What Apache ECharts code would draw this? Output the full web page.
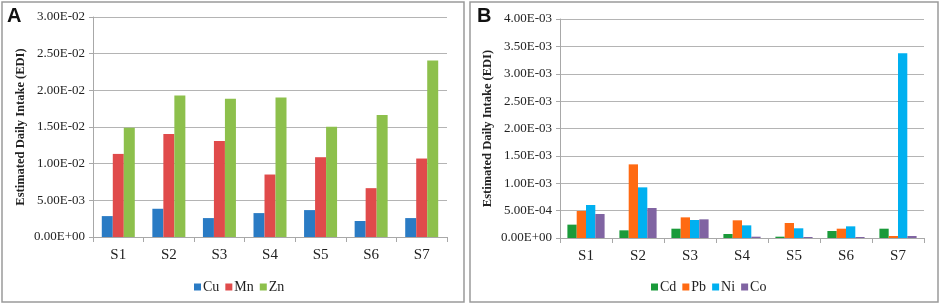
<!DOCTYPE html>
<html>
<head>
<meta charset="utf-8">
<script src="https://cdn.jsdelivr.net/npm/echarts@6/dist/echarts.min.js"></script>
<style>
  html, body { margin: 0; padding: 0; background: #fff; }
  #chart { width: 941px; height: 305px; }
</style>
</head>
<body>
<div id="chart"></div>
<script>
// sites
const sites = ['S1', 'S2', 'S3', 'S4', 'S5', 'S6', 'S7'];

// panel A
const cu = [0.00285, 0.00385, 0.00258, 0.00326, 0.00367, 0.00218, 0.00258];
const mn = [0.01133, 0.01405, 0.0131, 0.00852, 0.01088, 0.00666, 0.0107];
const zn = [0.01491, 0.0193, 0.01885, 0.01903, 0.01505, 0.01663, 0.02406];

// panel B
const cd = [0.000244, 0.00014, 0.00017, 0.000073, 0.000024, 0.000128, 0.00017];
const pb = [0.000493, 0.001345, 0.000377, 0.000323, 0.000274, 0.00017, 0.000037];
const ni = [0.000603, 0.000925, 0.000329, 0.000231, 0.000177, 0.000213, 0.003373];
const co = [0.000438, 0.000548, 0.000341, 0.000024, 0.000018, 0.000018, 0.000037];

const colorA = ['#2a7bc4', '#e04b4b', '#8dc04c'];
const colorB = ['#1a9a3a', '#ff6a12', '#00b0f0', '#8064a2'];

const serif = 'Liberation Serif';

// 3.00E-02 style labels
function sci(v) {
  let s = Number(v).toExponential(2).toUpperCase();
  let parts = s.split('E');
  let exp = parts[1];
  let sign = exp[0] === '-' ? '-' : '+';
  let num = exp.replace('+', '').replace('-', '');
  if (num.length < 2) num = '0' + num;
  return parts[0] + 'E' + sign + num;
}

function yAxisCfg(gridIndex, max, interval) {
  return {
    type: 'value',
    gridIndex: gridIndex,
    min: 0,
    max: max,
    interval: interval,
    name: 'Estimated Daily Intake (EDI)',
    nameLocation: 'middle',
    nameGap: 66,
    nameTextStyle: {
      color: '#222',
      fontFamily: serif,
      fontWeight: 'bold',
      fontSize: 12.5,
    },
    axisLine: { show: true, lineStyle: { color: '#a8a8a8' } },
    axisTick: { show: true, length: 4, lineStyle: { color: '#a8a8a8' } },
    axisLabel: {
      color: '#222',
      fontFamily: serif,
      fontSize: 13,
      margin: 8,
      formatter: sci,
    },
    splitLine: { lineStyle: { color: '#b4b4b4', width: 1 } },
  };
}

function xAxisCfg(gridIndex) {
  return {
    type: 'category',
    gridIndex: gridIndex,
    data: sites,
    axisLine: { show: true, lineStyle: { color: '#a8a8a8' } },
    axisTick: { show: true, length: 5, lineStyle: { color: '#a8a8a8' } },
    axisLabel: {
      color: '#222',
      fontFamily: serif,
      fontSize: 15,
      margin: 11,
      interval: 0,
    },
  };
}

function barSeries(name, data, color, idx, width) {
  return {
    name: name,
    type: 'bar',
    xAxisIndex: idx,
    yAxisIndex: idx,
    data: data,
    barWidth: width,
    barGap: '0%',
    itemStyle: { color: color },
  };
}

function legendCfg(names, left) {
  return {
    data: names,
    left: left,
    top: 275,
    icon: 'rect',
    itemWidth: 7,
    itemHeight: 7,
    itemGap: 6,
    textStyle: { fontFamily: serif, fontSize: 14, color: '#222', padding: [0, 0, 0, -3] },
  };
}

let myChart = echarts.init(document.getElementById('chart'));

let option = {
  animation: false,
  grid: [
    { left: 93, right: 494, top: 17, bottom: 68 },
    { left: 560, right: 17, top: 19, bottom: 67 },
  ],
  legend: [
    legendCfg(['Cu', 'Mn', 'Zn'], 189),
    legendCfg(['Cd', 'Pb', 'Ni', 'Co'], 646),
  ],
  xAxis: [xAxisCfg(0), xAxisCfg(1)],
  yAxis: [yAxisCfg(0, 0.03, 0.005), yAxisCfg(1, 0.004, 0.0005)],
  series: [
    barSeries('Cu', cu, colorA[0], 0, 11),
    barSeries('Mn', mn, colorA[1], 0, 11),
    barSeries('Zn', zn, colorA[2], 0, 11),
    barSeries('Cd', cd, colorB[0], 1, 9.3),
    barSeries('Pb', pb, colorB[1], 1, 9.3),
    barSeries('Ni', ni, colorB[2], 1, 9.3),
    barSeries('Co', co, colorB[3], 1, 9.3),
  ],
  graphic: [
    // panel frames
    { type: 'rect', shape: { x: 2, y: 2, width: 462, height: 300 }, style: { fill: 'none', stroke: '#9a9a9a', lineWidth: 1.5 } },
    { type: 'rect', shape: { x: 470, y: 2, width: 468, height: 300 }, style: { fill: 'none', stroke: '#9a9a9a', lineWidth: 1.5 } },
    // panel letters
    { type: 'text', left: 7, top: 6, style: { text: 'A', font: 'bold 20px "Liberation Sans", Arial, sans-serif', fill: '#111' } },
    { type: 'text', left: 477, top: 6, style: { text: 'B', font: 'bold 20px "Liberation Sans", Arial, sans-serif', fill: '#111' } },
  ],
};

myChart.setOption(option);
</script>
</body>
</html>
